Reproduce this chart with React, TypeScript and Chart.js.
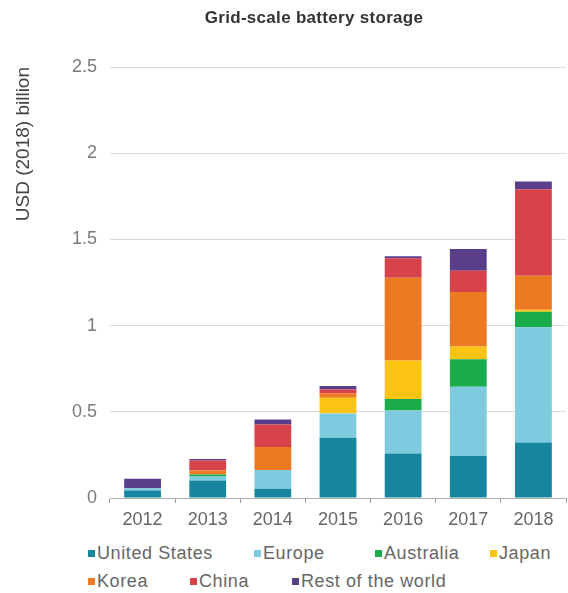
import React, { useEffect, useRef } from "react";
import { Chart, registerables } from "chart.js";

Chart.register(...registerables);

const categories = ["2012", "2013", "2014", "2015", "2016", "2017", "2018"];
const seriesNames = ["United States", "Europe", "Australia", "Japan", "Korea", "China", "Rest of the world"];
const unitedStates = [0.043, 0.101, 0.053, 0.35, 0.258, 0.244, 0.322];
const europe = [0.013, 0.024, 0.109, 0.14, 0.25, 0.401, 0.668];
const australia = [0, 0.011, 0, 0, 0.066, 0.16, 0.09];
const japan = [0, 0, 0, 0.092, 0.223, 0.074, 0.012];
const korea = [0, 0.024, 0.134, 0.025, 0.48, 0.316, 0.197];
const china = [0, 0.058, 0.131, 0.023, 0.114, 0.123, 0.502];
const restOfWorld = [0.055, 0.008, 0.028, 0.02, 0.011, 0.127, 0.045];
const seriesValues = [unitedStates, europe, australia, japan, korea, china, restOfWorld];
const seriesColors = ["#16869f", "#7ecbe0", "#1aab4b", "#fbc312", "#ec7a22", "#d8424a", "#5b3e8a"];
const yTitle = "USD (2018) billion";
const chartTitle = "Grid-scale battery storage";

const FONT = "'Liberation Sans', Arial, sans-serif";

const legendRows = [
  [{ i: 0, left: 88 }, { i: 1, left: 254 }, { i: 2, left: 375 }, { i: 3, left: 490 }],
  [{ i: 4, left: 88 }, { i: 5, left: 190 }, { i: 6, left: 292 }],
];

export default function App() {
  const canvasRef = useRef<HTMLCanvasElement | null>(null);

  useEffect(() => {
    if (!canvasRef.current) return;
    const chart = new Chart(canvasRef.current, {
      type: "bar",
      data: {
        labels: categories,
        datasets: seriesNames.map((name, k) => ({
          label: name,
          data: seriesValues[k],
          backgroundColor: seriesColors[k],
          borderWidth: 0,
          categoryPercentage: 1,
          barPercentage: 0.565,
        })),
      },
      options: {
        animation: false,
        responsive: false,
        maintainAspectRatio: false,
        layout: { padding: { top: 67, right: 2, left: 0, bottom: 0 } },
        plugins: {
          legend: { display: false },
          title: { display: false },
          tooltip: { enabled: false },
        },
        scales: {
          x: {
            stacked: true,
            grid: {
              display: true,
              drawOnChartArea: false,
              drawTicks: true,
              tickLength: 5,
              color: "#9a9a9a",
              offset: true,
            },
            border: { display: true, color: "#b0b0b0", width: 1 },
            ticks: {
              color: "#666666",
              font: { family: FONT, size: 18 },
              padding: 6,
            },
            afterFit: (scale: any) => {
              scale.height = 42;
            },
          },
          y: {
            stacked: true,
            min: 0,
            max: 2.5,
            ticks: {
              stepSize: 0.5,
              color: "#7a7a7a",
              font: { family: FONT, size: 18 },
              padding: 13,
              callback: (value: any) => String(Number(value)),
            },
            grid: {
              color: "#d9d9d9",
              lineWidth: 1,
              drawTicks: false,
            },
            border: { display: false },
            title: {
              display: true,
              text: yTitle,
              align: "end",
              color: "#444444",
              font: { family: FONT, size: 19 },
              padding: { top: 12, bottom: 0 },
            },
            afterFit: (scale: any) => {
              scale.width = 110;
            },
          },
        },
      },
    });
    return () => chart.destroy();
  }, []);

  return (
    <div style={{ position: "absolute", left: 0, top: 0, width: 568, height: 593, background: "#ffffff", fontFamily: FONT }}>
      <canvas ref={canvasRef} width={568} height={540} style={{ position: "absolute", left: 0, top: 0, width: 568, height: 540 }} />
      <div
        style={{
          position: "absolute",
          left: 314,
          top: 8,
          transform: "translateX(-50%)",
          whiteSpace: "nowrap",
          fontSize: 17,
          lineHeight: "20px",
          fontWeight: "bold",
          letterSpacing: "0.3px",
          color: "#333333",
        }}
      >
        {chartTitle}
      </div>
      {legendRows.map((row, r) =>
        row.map((item) => (
          <div
            key={item.i}
            style={{
              position: "absolute",
              left: item.left,
              top: r === 0 ? 543 : 571,
              height: 20,
              display: "flex",
              alignItems: "center",
              whiteSpace: "nowrap",
              fontSize: 18,
              lineHeight: "20px",
              letterSpacing: "0.6px",
              color: "#666666",
            }}
          >
            <span style={{ display: "inline-block", width: 7, height: 7, background: seriesColors[item.i], marginRight: 2 }} />
            {seriesNames[item.i]}
          </div>
        ))
      )}
    </div>
  );
}
